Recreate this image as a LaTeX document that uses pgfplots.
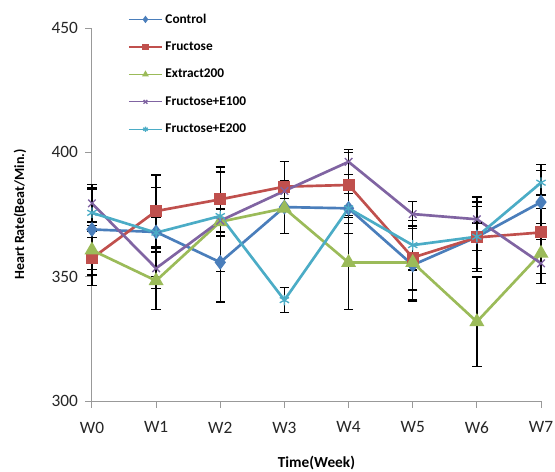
\documentclass[border=0pt]{standalone}
\usepackage{fontspec}
\setmainfont{Carlito}
\usepackage{pgfplots}
\pgfplotsset{compat=1.18}
\usepackage{pgfplotstable}
\definecolor{cB}{RGB}{74,126,187}
\definecolor{cR}{RGB}{192,80,77}
\definecolor{cG}{RGB}{155,187,89}
\definecolor{cP}{RGB}{128,100,162}
\definecolor{cC}{RGB}{75,172,198}
\pgfplotsset{errsty/.style={error bars/.cd, y dir=both, y explicit,
  error bar style={black, line width=1pt, solid},
  error mark options={black, rotate=90, mark size=3.5pt, line width=1pt, solid}}}
\pgfplotstableread{
x y e
0 369.0 16
1 368.0 18
2 355.8 16
3 378.0 10.5
4 377.5 10
5 354.7 14.7
6 366.0 14
7 380.0 15
}\control
\pgfplotstableread{
x y e
0 357.4 11
1 376.4 14.5
2 381.1 13
3 386.2 10
4 386.9 13
5 357.7 13
6 365.8 12.5
7 367.8 9.5
}\fructose
\pgfplotstableread{
x y e
0 360.7 10
1 348.4 11.5
2 372.1 20
3 377.5 10
4 355.7 19
5 355.7 15
6 331.9 18
7 359.4 12
}\extract
\pgfplotstableread{
x y e
0 379.5 7.5
1 353.4 8
2 372.5 4.7
3 384.5 3
4 396.2 5
5 375.2 5
6 373.1 9
7 355.4 4
}\ehundred
\pgfplotstableread{
x y e
0 375.7 10
1 367.7 6
2 374.4 8
3 340.6 5
4 377.5 6
5 362.7 10
6 366.1 5.5
7 387.8 5
}\etwohundred
\begin{document}
\begin{tikzpicture}
\begin{axis}[
  name=ax,
  scale only axis, width=337pt, height=280pt,
  xmin=0, xmax=7, ymin=300, ymax=450,
  ytick={300,350,400,450},
  xtick={0,1,2,3,4,5,6,7},
  xticklabels={W0,W1,W2,W3,W4,W5,W6,W7},
  axis x line*=bottom, axis y line*=left,
  axis line style={black!40, line width=0.7pt},
  tick style={black!40, line width=0.7pt},
  tick align=outside, major tick length=5pt,
  ticklabel style={font=\fontsize{13}{15}\selectfont, text=black!85},
  xticklabel style={yshift=-7pt},
  yticklabel style={xshift=-2pt},
  /pgf/number format/assume math mode=true,
  ylabel={Heart Rate(Beat/Min.)},
  xlabel={Time(Week)},
  xlabel style={font=\bfseries\fontsize{11.5}{13}\selectfont, at={(axis description cs:0.5,-0.166)}, anchor=center},
  ylabel style={font=\bfseries\fontsize{10.5}{12}\selectfont, at={(axis description cs:-0.160,0.5)}, anchor=center},
  clip=false,
  legend style={at={(axis description cs:0.08,1.046)}, anchor=north west, draw=none, fill=none,
    font=\bfseries\fontsize{10}{12}\selectfont, row sep=8.5pt, inner sep=0pt},
  legend cell align=left,
  legend image code/.code={\draw[mark repeat=2,mark phase=2,line width=1pt,mark size=2pt] plot coordinates {(0pt,0pt)(12.5pt,0pt)(25pt,0pt)};},
  every axis plot/.append style={line width=2pt},
]
\addplot[cB, mark=diamond*, mark size=4pt, mark options={solid}, errsty] table[x=x,y=y,y error=e]{\control};
\addlegendentry{Control}
\addplot[cR, mark=square*, mark size=3.5pt, mark options={solid}, errsty] table[x=x,y=y,y error=e]{\fructose};
\addlegendentry{Fructose}
\addplot[cG, mark=triangle*, mark size=4.5pt, mark options={solid}, errsty] table[x=x,y=y,y error=e]{\extract};
\addlegendentry{Extract200}
\addplot[cP, mark=x, mark size=4pt, mark options={solid, line width=1pt}, errsty] table[x=x,y=y,y error=e]{\ehundred};
\addlegendentry{Fructose+E100}
\addplot[cC, mark=asterisk, mark size=4pt, mark options={solid, line width=1pt}, errsty] table[x=x,y=y,y error=e]{\etwohundred};
\addlegendentry{Fructose+E200}
\end{axis}
\pgfresetboundingbox
\path[use as bounding box] ([shift={(-69pt,-53pt)}]ax.south west) rectangle ([shift={(10.5pt,21pt)}]ax.north east);
\end{tikzpicture}
\end{document}
